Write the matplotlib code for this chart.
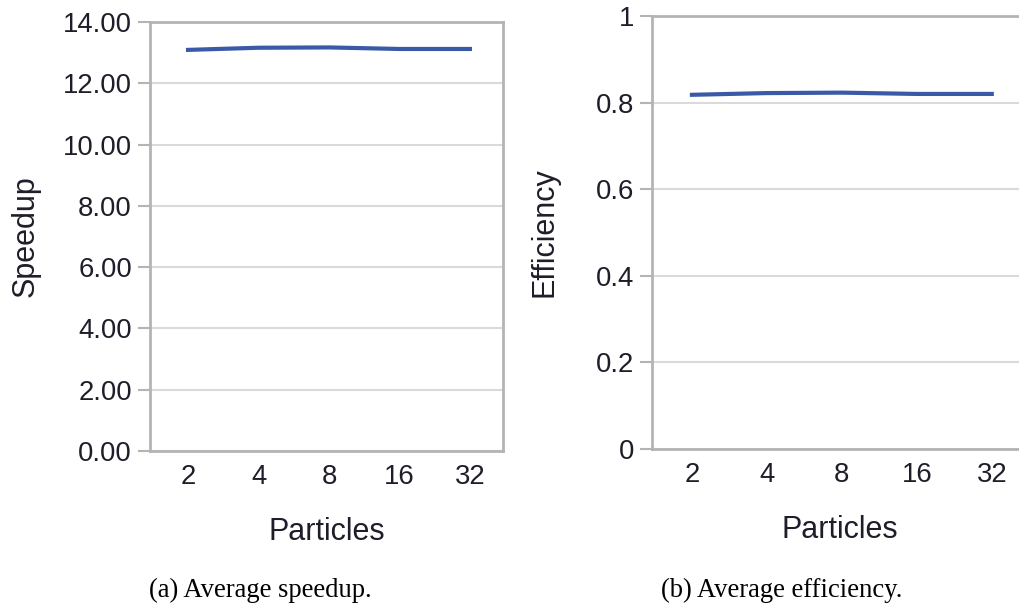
import matplotlib.pyplot as plt
import numpy as np

particles = ["2", "4", "8", "16", "32"]
speedup = [13.09, 13.16, 13.17, 13.12, 13.12]
efficiency = [0.818, 0.822, 0.823, 0.820, 0.820]

speed_ticks = [0, 2, 4, 6, 8, 10, 12, 14]
eff_ticks = [0, 0.2, 0.4, 0.6, 0.8, 1.0]
eff_labels = ["0", "0.2", "0.4", "0.6", "0.8", "1"]

plt.rcParams['font.family'] = ['Liberation Sans', 'DejaVu Sans']
txt = '#1e1e2a'
spine_c = '#b4b4b4'
grid_c = '#dadada'
line_c = '#3a5aa8'

fig = plt.figure(figsize=(10.2, 6.08), dpi=100)
ax1 = fig.add_axes([150/1020, 1-451/608, 353/1020, 429/608])
ax2 = fig.add_axes([652/1020, 1-449/608, 375/1020, 433/608])

x = np.arange(len(particles))

def style(ax, ticks, labels, ylabel, top, ypad):
    ax.set_ylim(0, top)
    ax.set_yticks(ticks)
    ax.set_yticklabels(labels)
    ax.set_xticks(x)
    ax.set_xticklabels(particles)
    ax.grid(axis='y', color=grid_c, linewidth=1.5)
    ax.set_axisbelow(True)
    for s in ax.spines.values():
        s.set_color(spine_c)
        s.set_linewidth(2)
    ax.tick_params(axis='y', length=9, width=1.5, color=spine_c, pad=4,
                   labelsize=19.8, labelcolor=txt)
    ax.tick_params(axis='x', length=0, pad=9, labelsize=19.8, labelcolor=txt)
    ax.set_xlabel("Particles", fontsize=22, color=txt, labelpad=20)
    ax.set_ylabel(ylabel, fontsize=22, color=txt, labelpad=ypad)

ax1.plot(x, speedup, color=line_c, linewidth=3)
ax1.set_xlim(-0.54, 4.47)
style(ax1, speed_ticks, ["%.2f" % t for t in speed_ticks], "Speedup", 14, 16)

ax2.plot(x, efficiency, color=line_c, linewidth=3)
ax2.set_xlim(-0.533, 4.47)
style(ax2, eff_ticks, eff_labels, "Efficiency", 1, 26)

fig.text(260/1020, 1-590/608, "(a) Average speedup.", family='Liberation Serif',
         fontsize=19.2, ha='center', va='center', color='black')
fig.text(782/1020, 1-590/608, "(b) Average efficiency.", family='Liberation Serif',
         fontsize=19.2, ha='center', va='center', color='black')

fig.savefig("out.png", dpi=100)
